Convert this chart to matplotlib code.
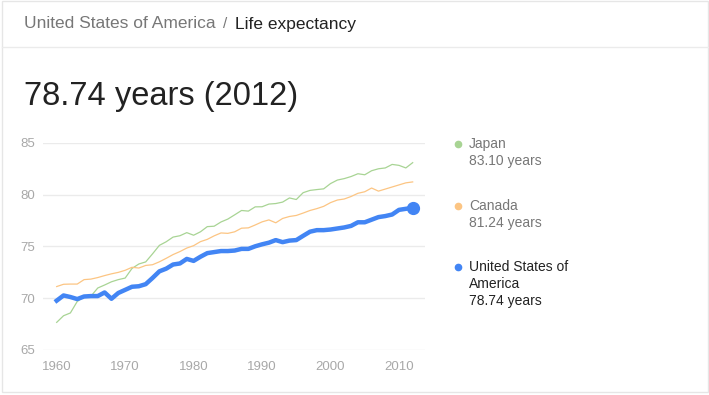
import matplotlib.pyplot as plt
from matplotlib.patches import Rectangle
from matplotlib.lines import Line2D

years = list(range(1960, 2013))

japan = [67.67, 68.31, 68.58, 69.69, 70.13, 70.20, 70.99, 71.28, 71.59, 71.80,
         71.95, 72.88, 73.31, 73.51, 74.29, 75.11, 75.46, 75.91, 76.04, 76.34,
         76.09, 76.42, 76.92, 76.96, 77.37, 77.65, 78.06, 78.48, 78.42, 78.83,
         78.84, 79.10, 79.15, 79.29, 79.69, 79.54, 80.20, 80.42, 80.50, 80.57,
         81.08, 81.42, 81.56, 81.76, 82.03, 81.93, 82.32, 82.51, 82.59, 82.93,
         82.84, 82.59, 83.10]

canada = [71.13, 71.35, 71.37, 71.37, 71.80, 71.85, 72.00, 72.19, 72.36, 72.50,
          72.70, 72.99, 72.92, 73.17, 73.24, 73.52, 73.86, 74.22, 74.51, 74.85,
          75.08, 75.47, 75.69, 76.03, 76.31, 76.27, 76.42, 76.77, 76.80, 77.08,
          77.38, 77.57, 77.29, 77.71, 77.90, 78.00, 78.23, 78.48, 78.66, 78.88,
          79.24, 79.49, 79.59, 79.83, 80.14, 80.29, 80.65, 80.35, 80.55, 80.75,
          80.95, 81.15, 81.24]

usa = [69.77, 70.27, 70.12, 69.92, 70.17, 70.21, 70.21, 70.56, 69.95, 70.51,
       70.81, 71.11, 71.16, 71.36, 71.96, 72.60, 72.86, 73.26, 73.36, 73.80,
       73.61, 74.01, 74.36, 74.46, 74.56, 74.56, 74.61, 74.77, 74.77, 75.02,
       75.21, 75.37, 75.62, 75.42, 75.57, 75.62, 76.03, 76.43, 76.58, 76.58,
       76.64, 76.74, 76.84, 76.99, 77.34, 77.34, 77.59, 77.84, 77.94, 78.09,
       78.54, 78.64, 78.74]

y_ticks = [65, 70, 75, 80, 85]
x_ticks = [1960, 1970, 1980, 1990, 2000, 2010]

legend_names = [["Japan"], ["Canada"], ["United States of", "America"]]
legend_values = ["83.10 years", "81.24 years", "78.74 years"]

green = "#a8d494"
orange = "#fcc583"
blue = "#4285f4"

plt.rcParams["font.family"] = ["Liberation Sans", "DejaVu Sans"]

W, H = 709, 395
fig = plt.figure(figsize=(W / 100, H / 100), dpi=100)

def fx(px):
    return px / W

def fy(py):
    return 1 - py / H

# card border and header separator
fig.add_artist(Rectangle((fx(2), fy(392)), fx(706), fy(1) - fy(392),
                         transform=fig.transFigure, fill=False, edgecolor="#e6e6e6", lw=1))
fig.add_artist(Line2D([fx(2), fx(708)], [fy(47), fy(47)], transform=fig.transFigure,
                      color="#ebebeb", lw=1))

fig.text(fx(24), fy(24), "United States of America", fontsize=12.5, color="#777777",
         va="center", ha="left")
fig.text(fx(223), fy(24), "/", fontsize=11, color="#777777", va="center", ha="left")
fig.text(fx(235), fy(24), "Life expectancy", fontsize=12.5, color="#222222",
         va="center", ha="left")
fig.text(fx(24), fy(97), "78.74 years (2012)", fontsize=23.5, color="#222222",
         va="center", ha="left")

ax = fig.add_axes([fx(43), fy(350), fx(425 - 43), fy(143) - fy(350)])
ax.plot(years, japan, color=green, lw=0.9, clip_on=False)
ax.plot(years, canada, color=orange, lw=0.9, clip_on=False)
ax.plot(years, usa, color=blue, lw=3.2, solid_joinstyle="round", clip_on=False)
ax.plot(years[-1], usa[-1], "o", color=blue, ms=8.5, clip_on=False)

ax.set_xlim(1958, 2013.8)
ax.set_ylim(65, 85)
ax.set_yticks(y_ticks)
ax.set_xticks(x_ticks)
ax.grid(axis="y", color="#ebebeb", lw=1)
ax.set_axisbelow(True)
for s in ax.spines.values():
    s.set_visible(False)
ax.tick_params(length=0, labelsize=9.5, labelcolor="#a8a8a8")
ax.tick_params(axis="y", pad=6)
ax.tick_params(axis="x", pad=8)

# legend
dot_colors = [green, orange, blue]
text_colors = ["#777777", "#777777", "#222222"]
dot_y = [144, 205.5, 267]
for i in range(3):
    fig.add_artist(Line2D([fx(458)], [fy(dot_y[i])], marker="o", ms=4.5,
                          color=dot_colors[i], transform=fig.transFigure))
    lines = legend_names[i] + [legend_values[i]]
    for j, t in enumerate(lines):
        fig.text(fx(469), fy(dot_y[i] + 17 * j), t, fontsize=10, color=text_colors[i],
                 va="center", ha="left")

fig.savefig("out.png", dpi=100)
